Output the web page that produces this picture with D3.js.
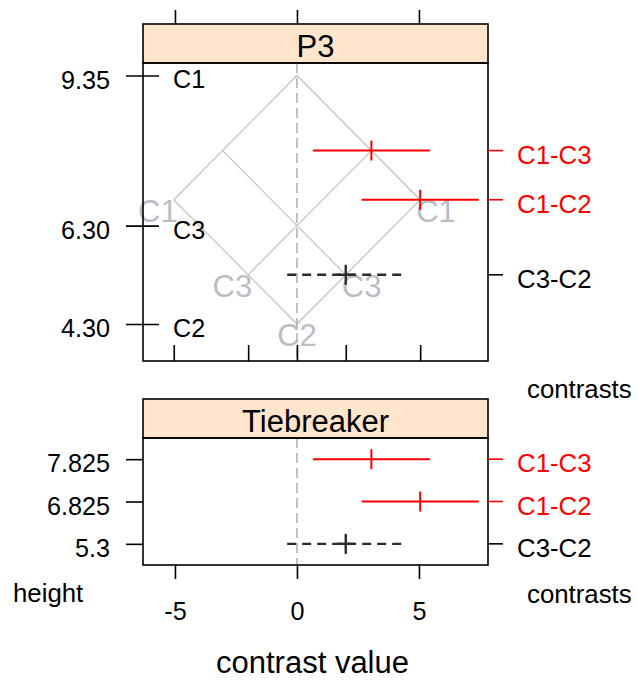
<!DOCTYPE html>
<html>
<head>
<meta charset="utf-8">
<script src="https://cdn.jsdelivr.net/npm/d3@7"></script>
<style>
  html, body { margin: 0; padding: 0; background: #fff; }
  svg { display: block; font-family: "Liberation Sans", Arial, sans-serif; }
</style>
</head>
<body>
<svg id="chart" width="638" height="683"></svg>
<script>
// Group means (sorted as shown on the height axis)
const groups = ["C1", "C3", "C2"];
const groupMeans = [9.35, 6.30, 4.30];
const meanLabels = ["9.35", "6.30", "4.30"];

// Pairwise contrasts with simultaneous confidence intervals
const contrasts = ["C1-C3", "C1-C2", "C3-C2"];
const estimates = [3.05, 5.05, 2.00];
const lowerCI = [0.65, 2.65, -0.40];
const upperCI = [5.45, 7.45, 4.40];
const contrastHeights = [7.825, 6.825, 5.3];
const heightLabels = ["7.825", "6.825", "5.3"];
const significant = [true, true, false];

// Axis ticks
const xTicks = [-5, 0, 5];

const svg = d3.select("#chart");
const FONT_TICK = 25.2, FONT_LAB = 25.8, FONT_MAIN = 31;

const panelL = 143, panelR = 488;
const mmcBox = { stripTop: 24, stripBot: 63, bottom: 361 };
const tieBox = { stripTop: 399, stripBot: 438, bottom: 565 };

const x = d3.scaleLinear().domain([-6.31, 7.83]).range([panelL, panelR]);
const yTop = d3.scaleLinear().domain([3.548, 9.604]).range([mmcBox.bottom, mmcBox.stripBot]);
const yBot = d3.scalePoint().domain(contrasts).range([tieBox.stripBot, tieBox.bottom]).padding(0.5);

const ciColor = i => significant[i] ? "#ff0000" : "#2b2b2b";

function styleAxis(g, color) {
  g.select(".domain").remove();
  g.selectAll(".tick line").attr("stroke", color || "#000").attr("stroke-width", 1.6);
  g.selectAll(".tick text").attr("fill", color || "#000")
    .attr("font-size", FONT_TICK).attr("font-family", "Liberation Sans, Arial, sans-serif");
}

// ---------- strips ----------
function strip(y0, y1, label, baseline) {
  svg.append("rect").attr("x", panelL).attr("y", y0)
    .attr("width", panelR - panelL).attr("height", y1 - y0)
    .attr("fill", "#ffe5cc").attr("stroke", "#000").attr("stroke-width", 1.6);
  svg.append("text").attr("x", (panelL + panelR) / 2).attr("y", baseline)
    .attr("text-anchor", "middle").attr("font-size", FONT_MAIN).attr("fill", "#000")
    .text(label);
}
strip(mmcBox.stripTop, mmcBox.stripBot, "P3", 57);
strip(tieBox.stripTop, tieBox.stripBot, "Tiebreaker", 432);

// ---------- MMC panel ----------
const gTop = svg.append("g");
const mMin = d3.min(groupMeans), mMax = d3.max(groupMeans);

// isomeans grid: two 45-degree lines through each mean
const isoSegs = [];
groupMeans.forEach(m => {
  isoSegs.push([[-(mMax - m), (m + mMax) / 2], [m - mMin, (m + mMin) / 2]]);
  isoSegs.push([[-(m - mMin), (m + mMin) / 2], [mMax - m, (m + mMax) / 2]]);
});
gTop.selectAll("line.iso").data(isoSegs).join("line").attr("class", "iso")
  .attr("x1", d => x(d[0][0])).attr("y1", d => yTop(d[0][1]))
  .attr("x2", d => x(d[1][0])).attr("y2", d => yTop(d[1][1]))
  .attr("stroke", "#bdbdbd").attr("stroke-width", 1.1);

// zero reference line
gTop.append("line").attr("x1", x(0)).attr("x2", x(0))
  .attr("y1", mmcBox.stripBot).attr("y2", mmcBox.bottom)
  .attr("stroke", "#a8a8a8").attr("stroke-width", 1.4).attr("stroke-dasharray", "10,5");

// group labels at the lower ends of the isomeans lines
const isoLabels = [];
groups.forEach((g, i) => {
  const m = groupMeans[i], d = m - mMin, h = (m + mMin) / 2;
  if (d === 0) isoLabels.push({ g, xv: 0, h, anchor: "middle", off: 0 });
  else {
    isoLabels.push({ g, xv: -d, h, anchor: "end", off: 4 });
    isoLabels.push({ g, xv: d, h, anchor: "start", off: -4 });
  }
});
gTop.selectAll("text.iso").data(isoLabels).join("text").attr("class", "iso")
  .attr("x", d => x(d.xv) + d.off).attr("y", d => yTop(d.h) + 22)
  .attr("text-anchor", d => d.anchor).attr("font-size", FONT_MAIN)
  .attr("fill", "#b9bdc6").text(d => d.g);

// confidence intervals
function drawCIs(g, yPos) {
  contrasts.forEach((c, i) => {
    const yy = yPos(i), col = ciColor(i);
    g.append("line").attr("x1", x(lowerCI[i])).attr("x2", x(upperCI[i]))
      .attr("y1", yy).attr("y2", yy).attr("stroke", col)
      .attr("stroke-width", significant[i] ? 2 : 2.4)
      .attr("stroke-dasharray", significant[i] ? null : "9,6");
    g.append("line").attr("x1", x(estimates[i])).attr("x2", x(estimates[i]))
      .attr("y1", yy - 10).attr("y2", yy + 10).attr("stroke", col)
      .attr("stroke-width", significant[i] ? 2 : 2.4);
    if (!significant[i]) {
      g.append("line").attr("x1", x(estimates[i]) - 9).attr("x2", x(estimates[i]) + 9)
        .attr("y1", yy).attr("y2", yy).attr("stroke", col).attr("stroke-width", 2.4);
    }
  });
}
drawCIs(gTop, i => yTop(contrastHeights[i]));

// panel frame
svg.append("rect").attr("x", panelL).attr("y", mmcBox.stripBot)
  .attr("width", panelR - panelL).attr("height", mmcBox.bottom - mmcBox.stripBot)
  .attr("fill", "none").attr("stroke", "#000").attr("stroke-width", 1.6);

// left axis: means, ticks crossing the frame
svg.append("g").attr("transform", `translate(159,0)`)
  .call(d3.axisLeft(yTop).tickValues(groupMeans).tickSize(33).tickPadding(16)
    .tickFormat((d, i) => meanLabels[i]))
  .call(g => styleAxis(g))
  .call(g => g.selectAll(".tick text").attr("dy", "0.5em"));
svg.append("g").selectAll("text").data(groups).join("text")
  .attr("x", 173).attr("y", (d, i) => yTop(groupMeans[i]) + 13)
  .attr("font-size", FONT_TICK).attr("fill", "#000").text(d => d);

// top axis
svg.append("g").attr("transform", `translate(0,${mmcBox.stripTop})`)
  .call(d3.axisTop(x).tickValues(xTicks).tickSize(14).tickFormat(""))
  .call(g => styleAxis(g));

// inner ticks at the isomeans label positions
const innerTicks = isoLabels.map(d => d.xv);
svg.append("g").attr("transform", `translate(0,${mmcBox.bottom})`)
  .call(d3.axisTop(x).tickValues(innerTicks).tickSize(16).tickFormat(""))
  .call(g => styleAxis(g));

// right axis: contrasts
function rightAxis(yPos) {
  const g = svg.append("g");
  contrasts.forEach((c, i) => {
    const yy = yPos(i);
    g.append("line").attr("x1", panelR).attr("x2", panelR + 15)
      .attr("y1", yy).attr("y2", yy).attr("stroke", significant[i] ? "#ff0000" : "#000")
      .attr("stroke-width", 1.6);
    g.append("text").attr("x", panelR + 29).attr("y", yy + 13)
      .attr("font-size", FONT_LAB).attr("fill", significant[i] ? "#ff0000" : "#000").text(c);
  });
}
rightAxis(i => yTop(contrastHeights[i]));

svg.append("text").attr("x", 527).attr("y", 398)
  .attr("font-size", FONT_LAB).attr("fill", "#000").text("contrasts");

// ---------- Tiebreaker panel ----------
const gBot = svg.append("g");
gBot.append("line").attr("x1", x(0)).attr("x2", x(0))
  .attr("y1", tieBox.stripBot).attr("y2", tieBox.bottom)
  .attr("stroke", "#a8a8a8").attr("stroke-width", 1.4).attr("stroke-dasharray", "10,5");
drawCIs(gBot, i => yBot(contrasts[i]));

svg.append("rect").attr("x", panelL).attr("y", tieBox.stripBot)
  .attr("width", panelR - panelL).attr("height", tieBox.bottom - tieBox.stripBot)
  .attr("fill", "none").attr("stroke", "#000").attr("stroke-width", 1.6);

svg.append("g").attr("transform", `translate(${panelL},0)`)
  .call(d3.axisLeft(yBot).tickSize(17).tickPadding(16)
    .tickFormat((d, i) => heightLabels[i]))
  .call(g => styleAxis(g))
  .call(g => g.selectAll(".tick text").attr("dy", "0.5em"));

rightAxis(i => yBot(contrasts[i]));

svg.append("g").attr("transform", `translate(0,${tieBox.bottom})`)
  .call(d3.axisBottom(x).tickValues(xTicks).tickSize(14).tickPadding(23)
    .tickFormat(d => String(d)))
  .call(g => styleAxis(g));

svg.append("text").attr("x", 13).attr("y", 602)
  .attr("font-size", FONT_LAB).attr("fill", "#000").text("height");
svg.append("text").attr("x", 527).attr("y", 603)
  .attr("font-size", FONT_LAB).attr("fill", "#000").text("contrasts");
svg.append("text").attr("x", (panelL + panelR) / 2 - 3).attr("y", 673)
  .attr("text-anchor", "middle").attr("font-size", FONT_MAIN).attr("fill", "#000")
  .text("contrast value");
</script>
</body>
</html>
